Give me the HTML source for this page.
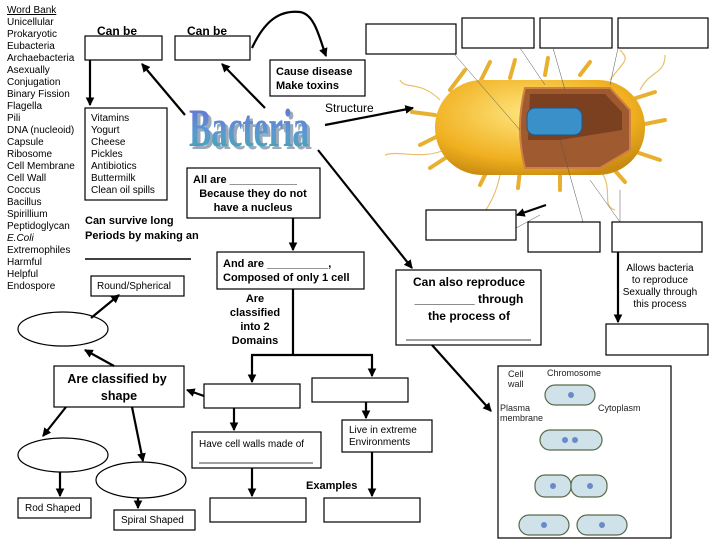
<!DOCTYPE html>
<html><head><meta charset="utf-8"><style>
html,body{margin:0;padding:0;background:#fff;}
svg{display:block;font-family:"Liberation Sans",sans-serif;}
.b{fill:#fff;stroke:#000;stroke-width:1.2}
.t{font-size:10px}
.h{font-size:12px;font-weight:bold}
.a{stroke:#000;stroke-width:2.2;fill:none;marker-end:url(#ar)}
.thin{stroke:#555;stroke-width:0.5;fill:none}
</style></head><body>
<svg width="720" height="540" viewBox="0 0 720 540" xmlns="http://www.w3.org/2000/svg">
<defs>
<marker id="ar" markerWidth="4" markerHeight="4" refX="3.5" refY="2" orient="auto" markerUnits="strokeWidth"><path d="M0,0 L4,2 L0,4 z" fill="#000"/></marker>
<linearGradient id="bg" x1="0" y1="0" x2="0" y2="1"><stop offset="0" stop-color="#6a6ad8"/><stop offset="0.6" stop-color="#5a9ad0"/><stop offset="1" stop-color="#3aa8a8"/></linearGradient>
<radialGradient id="yg" cx="0.45" cy="0.35" r="0.7"><stop offset="0" stop-color="#ffe680"/><stop offset="0.7" stop-color="#f0b020"/><stop offset="1" stop-color="#c88a10"/></radialGradient>
</defs>

<g class="t" fill="#000">
<text x="7" y="13" text-decoration="underline">Word Bank</text>
<text x="7" y="25">Unicellular</text><text x="7" y="37">Prokaryotic</text><text x="7" y="49">Eubacteria</text>
<text x="7" y="61">Archaebacteria</text><text x="7" y="73">Asexually</text><text x="7" y="85">Conjugation</text>
<text x="7" y="97">Binary Fission</text><text x="7" y="109">Flagella</text><text x="7" y="121">Pili</text>
<text x="7" y="133">DNA (nucleoid)</text><text x="7" y="145">Capsule</text><text x="7" y="157">Ribosome</text>
<text x="7" y="169">Cell Membrane</text><text x="7" y="181">Cell Wall</text><text x="7" y="193">Coccus</text>
<text x="7" y="205">Bacillus</text><text x="7" y="217">Spirillium</text><text x="7" y="229">Peptidoglycan</text>
<text x="7" y="241" font-style="italic">E.Coli</text><text x="7" y="253">Extremophiles</text><text x="7" y="265">Harmful</text>
<text x="7" y="277">Helpful</text><text x="7" y="289">Endospore</text>
</g>

<g>
<g stroke="#e8b030" stroke-width="4" stroke-linecap="round">
<line x1="450" y1="90" x2="465" y2="70"/><line x1="480" y1="82" x2="490" y2="62"/><line x1="510" y1="78" x2="515" y2="60"/>
<line x1="545" y1="75" x2="548" y2="58"/><line x1="580" y1="75" x2="590" y2="62"/><line x1="630" y1="100" x2="655" y2="92"/>
<line x1="640" y1="125" x2="665" y2="120"/><line x1="630" y1="150" x2="660" y2="160"/><line x1="610" y1="165" x2="625" y2="182"/>
<line x1="560" y1="172" x2="560" y2="190"/><line x1="520" y1="170" x2="518" y2="188"/><line x1="490" y1="165" x2="480" y2="185"/>
<line x1="450" y1="155" x2="430" y2="168"/><line x1="435" y1="115" x2="412" y2="112"/><line x1="440" y1="135" x2="420" y2="145"/>
</g>
<g stroke="#e8c070" stroke-width="1.2" fill="none">
<path d="M440 100 C420 80 405 90 400 80"/><path d="M445 150 C420 160 400 150 385 155"/><path d="M500 175 C495 200 485 210 480 220"/>
<path d="M600 170 C615 190 600 205 615 210"/><path d="M640 90 C650 70 665 75 665 55"/><path d="M610 80 C625 60 630 60 620 50"/>
</g>
<rect x="435" y="80" width="210" height="95" rx="47" fill="url(#yg)"/>
<path d="M525 88 L610 88 L630 110 L630 150 L600 168 L525 168 Q515 128 525 88 z" fill="#a05a30" stroke="#d08040" stroke-width="2"/>
<path d="M530 94 L605 94 L622 112 L622 130 L560 140 L528 140 z" fill="#7a4020"/>
<rect x="527" y="108" width="55" height="27" rx="8" fill="#3a90c8" stroke="#1a5a90"/>
</g>

<text x="189" y="146" font-family="'Liberation Serif',serif" font-weight="bold" font-size="54" fill="#9ab" transform="translate(3,3)" textLength="120" lengthAdjust="spacingAndGlyphs">Bacteria</text>
<text x="189" y="146" font-family="'Liberation Serif',serif" font-weight="bold" font-size="54" fill="url(#bg)" textLength="120" lengthAdjust="spacingAndGlyphs">Bacteria</text>

<text x="97" y="35" class="h">Can be</text>
<text x="187" y="35" class="h">Can be</text>
<rect class="b" x="85" y="36" width="77" height="24"/>
<rect class="b" x="175" y="36" width="75" height="24"/>
<rect class="b" x="270" y="60" width="95" height="36"/>
<text x="276" y="75" font-size="11" font-weight="bold">Cause disease</text>
<text x="276" y="89" font-size="11" font-weight="bold">Make toxins</text>
<text x="325" y="112" font-size="12">Structure</text>
<rect class="b" x="366" y="24" width="90" height="30"/>
<rect class="b" x="462" y="18" width="72" height="30"/>
<rect class="b" x="540" y="18" width="72" height="30"/>
<rect class="b" x="618" y="18" width="90" height="30"/>
<g class="thin"><line x1="455" y1="55" x2="520" y2="130"/><line x1="520" y1="48" x2="545" y2="85"/><line x1="553" y1="48" x2="565" y2="90"/><line x1="618" y1="48" x2="610" y2="85"/>
<line x1="560" y1="140" x2="583" y2="222"/><line x1="590" y1="180" x2="620" y2="222"/><line x1="620" y1="190" x2="620" y2="222"/><line x1="516" y1="228" x2="540" y2="215"/></g>

<rect class="b" x="85" y="108" width="82" height="92"/>
<g class="t"><text x="91" y="121">Vitamins</text><text x="91" y="133">Yogurt</text><text x="91" y="145">Cheese</text><text x="91" y="157">Pickles</text><text x="91" y="169">Antibiotics</text><text x="91" y="181">Buttermilk</text><text x="91" y="193">Clean oil spills</text></g>

<rect class="b" x="187" y="168" width="133" height="50"/>
<text x="193" y="183" font-size="11" font-weight="bold">All are ___________</text>
<text x="253" y="197" font-size="11" font-weight="bold" text-anchor="middle">Because they do not</text>
<text x="253" y="211" font-size="11" font-weight="bold" text-anchor="middle">have a nucleus</text>

<text x="85" y="224" font-size="11" font-weight="bold">Can survive long</text>
<text x="85" y="239" font-size="11" font-weight="bold">Periods by making an</text>
<line x1="85" y1="259" x2="191" y2="259" stroke="#000" stroke-width="1.5"/>

<rect class="b" x="217" y="252" width="147" height="37"/>
<text x="223" y="267" font-size="11" font-weight="bold">And are __________,</text>
<text x="223" y="281" font-size="11" font-weight="bold">Composed of only 1 cell</text>

<rect class="b" x="91" y="276" width="93" height="20"/>
<text x="97" y="289" class="t">Round/Spherical</text>

<g font-size="11" font-weight="bold" text-anchor="middle"><text x="255" y="302">Are</text><text x="255" y="316">classified</text><text x="255" y="330">into 2</text><text x="255" y="344">Domains</text></g>

<rect class="b" x="426" y="210" width="90" height="30"/>
<rect class="b" x="528" y="222" width="72" height="30"/>
<rect class="b" x="612" y="222" width="90" height="30"/>

<rect class="b" x="396" y="270" width="145" height="75"/>
<g font-size="12" font-weight="bold" text-anchor="middle"><text x="469" y="286">Can also reproduce</text><text x="469" y="303">_________ through</text><text x="469" y="320">the process of</text></g>
<line x1="406" y1="340" x2="531" y2="340" stroke="#000" stroke-width="0.8"/>

<g class="t" text-anchor="middle" font-size="9.5"><text x="660" y="271">Allows bacteria</text><text x="660" y="283">to reproduce</text><text x="660" y="295">Sexually through</text><text x="660" y="307">this process</text></g>
<rect class="b" x="606" y="324" width="102" height="31"/>

<ellipse class="b" cx="63" cy="329" rx="45" ry="17" stroke-width="0.8"/>
<rect class="b" x="54" y="366" width="130" height="41"/>
<text x="117" y="383" font-size="12.5" font-weight="bold" text-anchor="middle">Are classified by</text>
<text x="119" y="400" font-size="12.5" font-weight="bold" text-anchor="middle">shape</text>
<ellipse class="b" cx="63" cy="455" rx="45" ry="17" stroke-width="0.8"/>
<ellipse class="b" cx="141" cy="480" rx="45" ry="18" stroke-width="0.8"/>
<rect class="b" x="18" y="498" width="73" height="20"/>
<text x="25" y="511" class="t">Rod Shaped</text>
<rect class="b" x="114" y="510" width="81" height="20"/>
<text x="121" y="523" class="t">Spiral  Shaped</text>

<rect class="b" x="204" y="384" width="96" height="24"/>
<rect class="b" x="312" y="378" width="96" height="24"/>
<rect class="b" x="192" y="432" width="129" height="36"/>
<text x="199" y="447" class="t">Have cell walls made of</text>
<line x1="199" y1="463" x2="313" y2="463" stroke="#000" stroke-width="0.8"/>
<rect class="b" x="342" y="420" width="90" height="32"/>
<text x="349" y="433" class="t">Live in extreme</text><text x="349" y="445" class="t">Environments</text>
<text x="306" y="489" font-size="11" font-weight="bold">Examples</text>
<rect class="b" x="210" y="498" width="96" height="24"/>
<rect class="b" x="324" y="498" width="96" height="24"/>

<rect class="b" x="498" y="366" width="173" height="172"/>
<g font-size="9" fill="#222"><text x="508" y="377">Cell</text><text x="508" y="387">wall</text><text x="547" y="376">Chromosome</text>
<text x="500" y="411">Plasma</text><text x="500" y="421">membrane</text><text x="598" y="411">Cytoplasm</text></g>
<g fill="#cfe2ea" stroke="#5a6a4a" stroke-width="1.2">
<rect x="545" y="385" width="50" height="20" rx="10"/>
<rect x="540" y="430" width="62" height="20" rx="10"/>
<rect x="535" y="475" width="36" height="22" rx="10"/><rect x="571" y="475" width="36" height="22" rx="10"/>
<rect x="519" y="515" width="50" height="20" rx="10"/><rect x="577" y="515" width="50" height="20" rx="10"/>
</g>
<g fill="#6a8ac8"><circle cx="571" cy="395" r="3"/><circle cx="565" cy="440" r="3"/><circle cx="575" cy="440" r="3"/><circle cx="553" cy="486" r="3"/><circle cx="590" cy="486" r="3"/><circle cx="544" cy="525" r="3"/><circle cx="602" cy="525" r="3"/></g>

<path class="a" d="M252 48 C265 20 280 10 300 12 C315 14 320 40 326 56"/>
<line class="a" x1="185" y1="115" x2="142" y2="64"/>
<line class="a" x1="265" y1="108" x2="222" y2="64"/>
<line class="a" x1="90" y1="60" x2="90" y2="105"/>
<line class="a" x1="325" y1="125" x2="413" y2="108"/>
<line class="a" x1="318" y1="150" x2="412" y2="268"/>
<line class="a" x1="293" y1="218" x2="293" y2="250"/>
<line x1="293" y1="289" x2="293" y2="355" stroke="#000" stroke-width="2.2"/>
<line x1="251" y1="355" x2="373" y2="355" stroke="#000" stroke-width="2.2"/>
<line class="a" x1="252" y1="355" x2="252" y2="382"/>
<line class="a" x1="372" y1="355" x2="372" y2="376"/>
<line class="a" x1="204" y1="396" x2="187" y2="390"/>
<line class="a" x1="234" y1="408" x2="234" y2="430"/>
<line class="a" x1="366" y1="402" x2="366" y2="418"/>
<line class="a" x1="252" y1="468" x2="252" y2="496"/>
<line class="a" x1="372" y1="452" x2="372" y2="496"/>
<line class="a" x1="114" y1="366" x2="85" y2="350"/>
<line class="a" x1="91" y1="318" x2="119" y2="295"/>
<line class="a" x1="66" y1="407" x2="43" y2="436"/>
<line class="a" x1="132" y1="407" x2="143" y2="461"/>
<line class="a" x1="60" y1="472" x2="60" y2="496"/>
<line class="a" x1="138" y1="498" x2="138" y2="508"/>
<line class="a" x1="432" y1="345" x2="491" y2="411"/>
<line class="a" x1="546" y1="205" x2="517" y2="215"/>
<line class="a" x1="618" y1="252" x2="618" y2="322"/>
</svg>
</body></html>
